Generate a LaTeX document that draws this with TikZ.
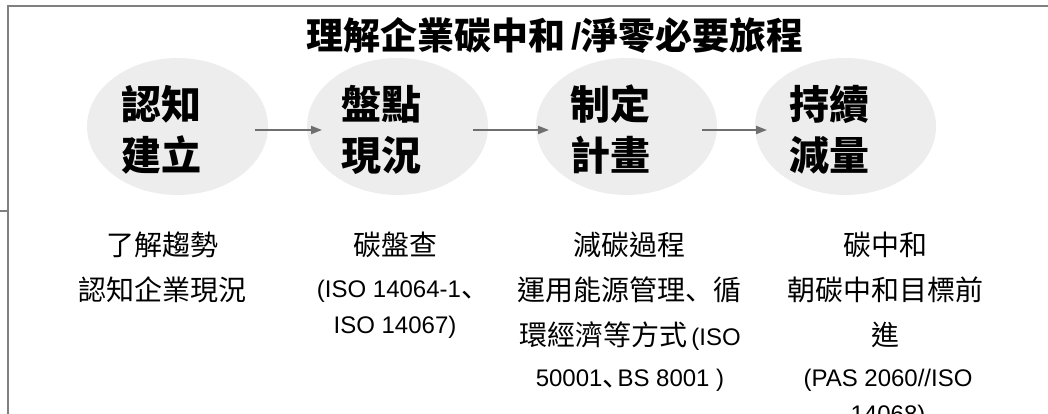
\documentclass[tikz,border=0pt]{standalone}
\usepackage{fontspec}
\setmainfont{Liberation Sans}
\newfontfamily\cjk{Noto Sans CJK TC}
\newfontfamily\cjkjp{Noto Sans CJK JP}
\usetikzlibrary{shapes.geometric,arrows.meta}
\definecolor{ellgray}{HTML}{EDEDED}
\definecolor{framegray}{HTML}{808080}
\definecolor{arrgray}{HTML}{6F6F6F}
\newcommand\zh[1]{{\cjk\fontsize{28}{30}\selectfont #1}}
\newcommand\zhp[1]{{\cjkjp\fontsize{28}{30}\selectfont #1}}
\begin{document}
\begin{tikzpicture}[x=1pt,y=-1pt,
  blob/.style={ellipse, fill=ellgray, draw=none, minimum width=181pt, minimum height=137pt, inner sep=0pt, outer sep=0pt},
  blobtext/.style={anchor=base, inner sep=0pt, font=\cjk\bfseries\fontsize{40}{44}\selectfont},
  titletext/.style={anchor=base, inner sep=0pt, font=\cjk\bfseries\fontsize{37}{40}\selectfont},
  desc/.style={anchor=base, inner sep=0pt, font=\fontsize{24}{28}\selectfont},
  flow/.style={draw=arrgray, line width=2pt, -{Triangle[length=11pt,width=8pt]}},
  frame/.style={draw=framegray, line width=2pt}]
\useasboundingbox (0,0) rectangle (1048,414);
\clip (0,0) rectangle (1048,414);

% frame
\coordinate (ftr) at (1060,6.3);
\coordinate (ftl) at (8.3,6.3);
\coordinate (fbl) at (8.3,420);
\coordinate (stubl) at (-2,210.7);
\coordinate (stubr) at (8.3,210.7);
\draw[frame] (ftr) -- (ftl) -- (fbl);
\draw[frame] (stubl) -- (stubr);

% title
\node[titletext] (title) at (555,49.5) {理解企業碳中和{\rmfamily\,/}淨零必要旅程};

% ellipses
\node[blob] (e1) at (177.5,126.5) {};
\node[blob] (e2) at (397.5,126.5) {};
\node[blob] (e3) at (626.5,126.5) {};
\node[blob] (e4) at (845.5,126.5) {};

\node[blobtext] (l1a) at (161,120) {認知};
\node[blobtext] (l1b) at (161,171) {建立};
\node[blobtext] (l2a) at (381,120) {盤點};
\node[blobtext] (l2b) at (381,171) {現況};
\node[blobtext] (l3a) at (610,120) {制定};
\node[blobtext] (l3b) at (610,171) {計畫};
\node[blobtext] (l4a) at (829,120) {持續};
\node[blobtext] (l4b) at (829,171) {減量};

% arrows
\draw[flow] ([shift={(-13,3.5)}]e1.east) -- ([shift={(15,3.5)}]e2.west);
\draw[flow] ([shift={(-15,3.5)}]e2.east) -- ([shift={(13,3.5)}]e3.west);
\draw[flow] ([shift={(-15,3.5)}]e3.east) -- ([shift={(12,3.5)}]e4.west);

% descriptions
\node[desc] (d1a) at (162,255) {\zh{了解趨勢}};
\node[desc] (d1b) at (162,300) {\zh{認知企業現況}};

\node[desc] (d2a) at (395,255) {\zh{碳盤查}};
\node[desc] (d2b) at (403,297) {(ISO 14064-1\zhp{、}};
\node[desc] (d2c) at (395,333) {ISO 14067)};

\node[desc] (d3a) at (629,255) {\zh{減碳過程}};
\node[desc] (d3b) at (629,300) {\zh{運用能源管理}\zhp{、}\zh{循}};
\node[desc] (d3c) at (630,345) {\zh{環經濟等方式}\,(ISO};
\node[desc] (d3d) at (630,386) {50001\zhp{、}\hspace{-13pt}BS 8001 )};

\node[desc] (d4a) at (885,255) {\zh{碳中和}};
\node[desc] (d4b) at (885,300) {\zh{朝碳中和目標前}};
\node[desc] (d4c) at (885,345) {\zh{進}};
\node[desc] (d4d) at (888,386) {(PAS 2060//ISO};
\node[desc] (d4e) at (888,422) {14068)};
\end{tikzpicture}
\end{document}
